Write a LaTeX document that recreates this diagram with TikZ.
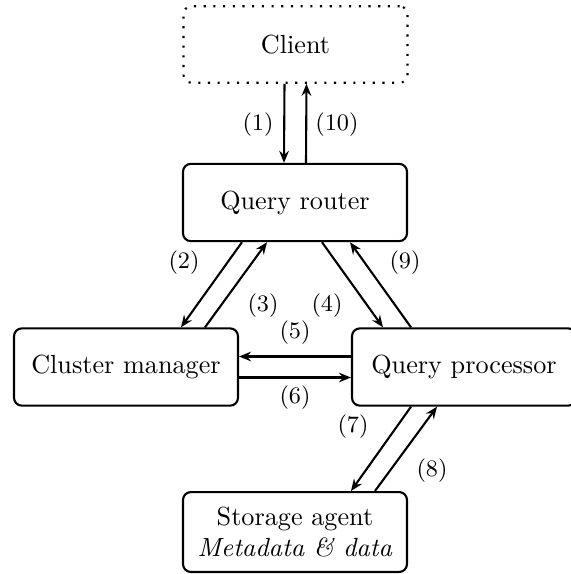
\documentclass[tikz,border=0pt]{standalone}
\usetikzlibrary{calc,arrows.meta}
\begin{document}
\begin{tikzpicture}[x=0.3817pt,y=-0.3817pt,
  box/.style={draw, thick, rounded corners=3pt, minimum width=85.5pt, minimum height=29.5pt, align=center},
  arr/.style={thick, -{Stealth[length=4.6pt,width=3.7pt,inset=1.6pt]}},
  lbl/.style={font=\small, inner sep=0pt}]
\useasboundingbox (0,0) rectangle (570,574);
\node[box, dash pattern=on 0.8pt off 2.9pt, minimum height=29.2pt] (client) at (295.5,44.5) {Client};
\node[box] (router) at (295,202.5) {Query router};
\node[box] (cm) at (126,367) {Cluster manager};
\node[box] (qp) at (464,367) {Query processor};
\node[box, minimum height=30.5pt] (sa) at (295,532) {Storage agent\\\textit{Metadata \& data}};
% client <-> router
\draw[arr] ($(client.south)+(-11,0)$) -- ($(router.north)+(-11,0)$);
\draw[arr] ($(router.north)+(11,0)$) -- ($(client.south)+(11,0)$);
% router <-> cluster manager
\draw[arr] ($(router.south)+(-53,0)$) -- ($(cm.north)+(55,0)$);
\draw[arr] ($(cm.north)+(79,0)$) -- ($(router.south)+(-28,0)$);
% router <-> query processor
\draw[arr] ($(router.south)+(27,0)$) -- ($(qp.north)+(-81,0)$);
\draw[arr] ($(qp.north)+(-53,0)$) -- ($(router.south)+(55,0)$);
% query processor <-> cluster manager
\draw[arr] ($(qp.west)+(0,-10.5)$) -- ($(cm.east)+(0,-10.5)$);
\draw[arr] ($(cm.east)+(0,10.5)$) -- ($(qp.west)+(0,10.5)$);
% query processor <-> storage
\draw[arr] ($(qp.south)+(-53,0)$) -- ($(sa.north)+(56,0)$);
\draw[arr] ($(sa.north)+(80,0)$) -- ($(qp.south)+(-27,0)$);
% labels
\node[lbl] (l1) at (258,125) {(1)};
\node[lbl] (l10) at (337,125) {(10)};
\node[lbl] (l2) at (184,263) {(2)};
\node[lbl] (l9) at (405,263) {(9)};
\node[lbl] (l3) at (263,306) {(3)};
\node[lbl] (l4) at (327,306) {(4)};
\node[lbl] (l5) at (295,333) {(5)};
\node[lbl] (l6) at (295,398) {(6)};
\node[lbl] (l7) at (353,427) {(7)};
\node[lbl] (l8) at (432,471) {(8)};
\end{tikzpicture}
\end{document}
